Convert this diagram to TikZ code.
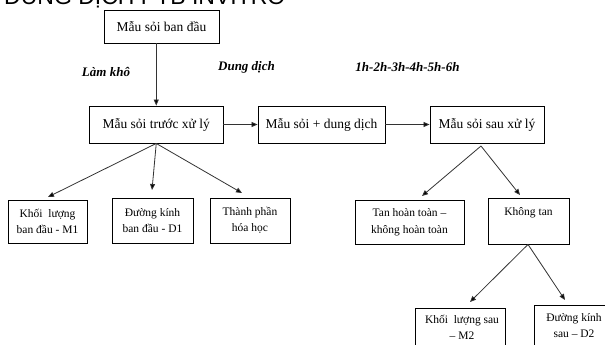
\documentclass[tikz,border=0pt]{standalone}
\usepackage{fontspec}
\setmainfont{Liberation Serif}
\newfontfamily\headfont{Liberation Sans}
\usetikzlibrary{arrows.meta}
\tikzset{
  box/.style={draw=black, line width=0.9pt, inner sep=0pt, align=center,
    font=\fontsize{13.5}{16}\selectfont},
  sbox/.style={draw=black, line width=0.9pt, inner sep=0pt, align=center,
    font=\fontsize{11.5}{16.5}\selectfont},
  stxt/.style={inner sep=0pt, align=center, font=\fontsize{11.5}{16.5}\selectfont},
  lbl/.style={inner sep=0pt, font=\fontsize{13}{15}\selectfont\bfseries\itshape},
  arr/.style={draw=black!80, line width=0.8pt, -{Triangle[length=6pt,width=5pt,fill=black]}},
}
\begin{document}
\begin{tikzpicture}[x=1pt,y=-1pt]
\clip (0,0) rectangle (605,345);
\fill[white] (0,0) rectangle (605,345);
% heading (cut off at top)
\node[anchor=base west, inner sep=0pt, font=\headfont\fontsize{23}{23}\selectfont] (title) at (4,5) {DUNG DỊCH PTB INVITRO};
% top row
\node[box, minimum width=115pt, minimum height=33pt] (b0) at (161.5,26.5) {Mẫu sỏi ban đầu};
\node[box, minimum width=133.5pt, minimum height=37pt] (b1) at (156.25,124.5) {Mẫu sỏi trước xử lý};
\node[box, minimum width=127pt, minimum height=37pt] (b2) at (321.5,124.5) {Mẫu sỏi + dung dịch};
\node[box, minimum width=114pt, minimum height=37pt] (b3) at (487,124.5) {Mẫu sỏi sau xử lý};
% labels
\node[lbl] (l1) at (106,72) {Làm khô};
\node[lbl] (l2) at (246.5,67.5) {Dung dịch};
\node[lbl] (l3) at (407.5,67) {1h-2h-3h-4h-5h-6h};
% left lower boxes
\node[sbox, minimum width=79pt, minimum height=43pt] (c1) at (47.5,221.5) {Khối~ lượng\\ban đầu - M1};
\node[sbox, minimum width=81pt, minimum height=45pt] (c2) at (152.5,220.5) {Đường kính\\ban đầu - D1};
\node[sbox, minimum width=80pt, minimum height=45pt] (c3) at (250,220.5) {Thành phần\\hóa học};
% right lower boxes
\node[sbox, minimum width=109pt, minimum height=44pt] (d1) at (409.5,222) {Tan hoàn toàn –\\không hoàn toàn};
\node[sbox, minimum width=81pt, minimum height=46pt] (d2) at (528.5,221) {};
\node[stxt] (d2t) at (528.5,213) {Không tan};
\node[sbox, minimum width=90pt, minimum height=60pt] (e1) at (460,338) {};
\node[stxt] (e1t) at (462,327.5) {Khối~ lượng sau\\– M2};
\node[sbox, minimum width=86pt, minimum height=60pt] (e2) at (577,335) {};
\node[stxt] (e2t) at (574,325.5) {Đường kính\\sau – D2};
% tips
\coordinate (t1) at (48,197);
\coordinate (t2) at (152,190);
\coordinate (t3) at (242,193);
\coordinate (a3) at (481,146);
\coordinate (t4) at (422,196);
\coordinate (t5) at (520,195);
\coordinate (a4) at (528,244);
\coordinate (t6) at (470,302);
\coordinate (t7) at (565,300);
% connectors
\draw[arr] (b0.south -| b1.north) -- (b1.north);
\draw[arr] (b1.east) -- (b2.west);
\draw[arr] (b2.east) -- (b3.west);
\draw[arr] (b1.south) -- (t1);
\draw[arr] (b1.south) -- (t2);
\draw[arr] (b1.south) -- (t3);
\draw[arr] (a3) -- (t4);
\draw[arr] (a3) -- (t5);
\draw[arr] (d2.south -| a4) -- (t6);
\draw[arr] (d2.south -| a4) -- (t7);
\end{tikzpicture}
\end{document}
